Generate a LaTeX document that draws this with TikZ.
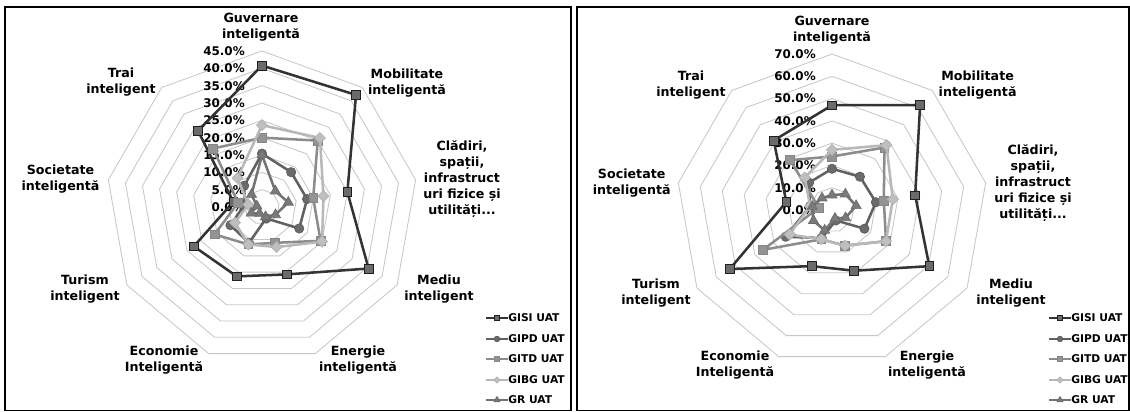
\documentclass[tikz,border=0pt]{standalone}
\usepackage{fontspec}
\setmainfont{DejaVu Sans}
\usetikzlibrary{shapes.geometric}

\tikzset{
	ring/.style = {draw=black!22, line width=0.6pt},
	serie/.style = {line width=1.8pt, line join=round},
	gisi/.style = {serie, draw=black!80},
	gipd/.style = {serie, draw=black!62},
	gitd/.style = {serie, draw=black!45},
	gibg/.style = {serie, draw=black!28},
	grs/.style = {serie, draw=black!55},
	mk/.style = {inner sep=0pt, line width=0.5pt},
	gisimk/.style = {mk, rectangle, draw=black!88, fill=black!58, minimum size=6.2pt},
	gipdmk/.style = {mk, circle, draw=black!64, fill=black!58, minimum size=6.6pt},
	gitdmk/.style = {mk, rectangle, draw=black!48, fill=black!42, minimum size=6.2pt},
	gibgmk/.style = {mk, diamond, draw=black!30, fill=black!25, minimum size=8pt},
	grmk/.style = {mk, regular polygon, regular polygon sides=3, draw=black!58, fill=black!52, minimum size=8.2pt},
	axlab/.style = {font=\bfseries\fontsize{9}{11.4}\selectfont, align=center, inner sep=0pt},
	ticklab/.style = {font=\bfseries\fontsize{8.5}{10}\selectfont, anchor=east, inner sep=0pt},
	leglab/.style = {font=\bfseries\fontsize{7.6}{10}\selectfont, anchor=west, inner sep=0pt},
	frame/.style = {draw=black, line width=1.4pt}
}

% #1 line style, #2 marker style, #3 name, #4 values (Guvernare ... Trai)
\newcommand{\serie}[4]{%
	\foreach \val [count=\n from 0] in {#4} {\coordinate (#3\n) at ({90-40*\n}:{\val*\pc});}
	\draw[#1] (#30) -- (#31) -- (#32) -- (#33) -- (#34) -- (#35) -- (#36) -- (#37) -- (#38) -- cycle;
	\foreach \n in {0,...,8} {\node[#2] (#3m\n) at (#3\n) {};}
}

\begin{document}
\begin{tikzpicture}[x=0.025cm, y=0.025cm]
	\useasboundingbox (0,0) rectangle (1130,412);
	
	\draw[frame] (5,1.5) rectangle (571,405);
	\draw[frame] (577,1.5) rectangle (1129,405);
	
	% left chart, 0 - 45 %
	\begin{scope}[shift={(262,205)}]
		\pgfmathsetmacro{\pc}{156/45}
		\foreach \k in {1,...,9}
			\draw[ring] (90:{\k*156/9}) \foreach \a in {1,...,8} {-- ({90-40*\a}:{\k*156/9})} -- cycle;
		\foreach \t [count=\k from 0] in {0.0,5.0,10.0,15.0,20.0,25.0,30.0,35.0,40.0,45.0}
			\node[ticklab] (Lt\k) at (-17,{\k*156/9}) {\t\%};
		\serie{gisi}{gisimk}{Lgisi}{40.8,42.2,25,35.5,20.7,21.3,22.7,8.4,28.7}
		\serie{gipd}{gipdmk}{Lgipd}{15.4,13.1,13.2,12.4,3.5,11,10.5,5,8}
		\serie{gitd}{gitdmk}{Lgitd}{20,25,15,19.5,11,11.5,15.8,7,22}
		\serie{gibg}{gibgmk}{Lgibg}{23.6,26,18,20,12.3,11.5,9,4,11}
		\serie{grs}{grmk}{Lgr}{15,6,7.7,4.5,3,2,3.6,1.5,4.7}
	\end{scope}
	
	\node[axlab] (Lgov) at (261,384.5) {Guvernare\\inteligentă};
	\node[axlab] (Lmob) at (407,329) {Mobilitate\\inteligentă};
	\node[axlab] (Lcla) at (462,232.5) {Clădiri,\\spații,\\infrastruct\\uri fizice și\\utilități...};
	\node[axlab] (Lmed) at (439,123) {Mediu\\inteligent};
	\node[axlab] (Lene) at (358,52) {Energie\\inteligentă};
	\node[axlab] (Leco) at (164,52) {Economie\\Inteligentă};
	\node[axlab] (Ltur) at (85,123) {Turism\\inteligent};
	\node[axlab] (Lsoc) at (60.5,233) {Societate\\inteligentă};
	\node[axlab] (Ltra) at (121,330) {Trai\\inteligent};
	
	\node[leglab] (Lleg1) at (508,94) {GISI UAT};
	\node[leglab] (Lleg2) at (508,73) {GIPD UAT};
	\node[leglab] (Lleg3) at (508,53) {GITD UAT};
	\node[leglab] (Lleg4) at (508,32) {GIBG UAT};
	\node[leglab] (Lleg5) at (508,12) {GR UAT};
	\draw[gisi] (Lleg1.west) -- ++(-22,0) node[gisimk, midway, minimum size=3.6pt] (Lk1) {};
	\draw[gipd] (Lleg2.west) -- ++(-22,0) node[gipdmk, midway, minimum size=4pt] (Lk2) {};
	\draw[gitd] (Lleg3.west) -- ++(-22,0) node[gitdmk, midway, minimum size=3.6pt] (Lk3) {};
	\draw[gibg] (Lleg4.west) -- ++(-22,0) node[gibgmk, midway, minimum size=4.6pt] (Lk4) {};
	\draw[grs] (Lleg5.west) -- ++(-22,0) node[grmk, midway, minimum size=5pt] (Lk5) {};
	
	% right chart, 0 - 70 %
	\begin{scope}[shift={(832,202)}]
		\pgfmathsetmacro{\pc}{156/70}
		\foreach \k in {1,...,7}
			\draw[ring] (90:{\k*156/7}) \foreach \a in {1,...,8} {-- ({90-40*\a}:{\k*156/7})} -- cycle;
		\foreach \t [count=\k from 0] in {0.0,10.0,20.0,30.0,40.0,50.0,60.0,70.0}
			\node[ticklab] (Rt\k) at (-16,{\k*156/7}) {\t\%};
		\serie{gisi}{gisimk}{Rgisi}{47,61.5,37.9,50.4,29,26.8,53,20.8,40.7}
		\serie{gipd}{gipdmk}{Rgipd}{18.5,19.5,20,16.8,5,13.4,24,10,16}
		\serie{gitd}{gitdmk}{Rgitd}{24,36.6,23.6,28,17,14,35.8,6,29.2}
		\serie{gibg}{gibgmk}{Rgibg}{27,38,27.7,28,17,14,22,10,19}
		\serie{grs}{grmk}{Rgr}{6.7,9.3,11,7,4,9.7,9.6,9,7}
	\end{scope}
	
	\node[axlab] (Rgov) at (832,382) {Guvernare\\inteligentă};
	\node[axlab] (Rmob) at (977.6,327) {Mobilitate\\inteligentă};
	\node[axlab] (Rcla) at (1033,229) {Clădiri,\\spații,\\infrastruct\\uri fizice și\\utilități...};
	\node[axlab] (Rmed) at (1011,119) {Mediu\\inteligent};
	\node[axlab] (Rene) at (927,47) {Energie\\inteligentă};
	\node[axlab] (Reco) at (735,47) {Economie\\Inteligentă};
	\node[axlab] (Rtur) at (656,119) {Turism\\inteligent};
	\node[axlab] (Rsoc) at (631.7,229) {Societate\\inteligentă};
	\node[axlab] (Rtra) at (691,327) {Trai\\inteligent};
	
	\node[leglab] (Rleg1) at (1071,94) {GISI UAT};
	\node[leglab] (Rleg2) at (1071,73) {GIPD UAT};
	\node[leglab] (Rleg3) at (1071,53) {GITD UAT};
	\node[leglab] (Rleg4) at (1071,32) {GIBG UAT};
	\node[leglab] (Rleg5) at (1071,12) {GR UAT};
	\draw[gisi] (Rleg1.west) -- ++(-22,0) node[gisimk, midway, minimum size=3.6pt] (Rk1) {};
	\draw[gipd] (Rleg2.west) -- ++(-22,0) node[gipdmk, midway, minimum size=4pt] (Rk2) {};
	\draw[gitd] (Rleg3.west) -- ++(-22,0) node[gitdmk, midway, minimum size=3.6pt] (Rk3) {};
	\draw[gibg] (Rleg4.west) -- ++(-22,0) node[gibgmk, midway, minimum size=4.6pt] (Rk4) {};
	\draw[grs] (Rleg5.west) -- ++(-22,0) node[grmk, midway, minimum size=5pt] (Rk5) {};
	
\end{tikzpicture}
\end{document}
